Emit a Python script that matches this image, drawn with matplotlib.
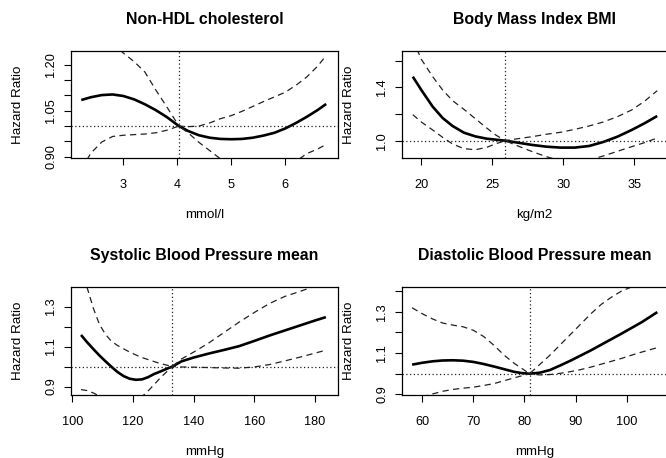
import matplotlib
matplotlib.use("Agg")
import matplotlib.pyplot as plt
import numpy as np

plt.rcParams['font.family'] = ['Liberation Sans', 'DejaVu Sans']

# ---------------- data ----------------
titles = ["Non-HDL cholesterol", "Body Mass Index BMI",
          "Systolic Blood Pressure mean", "Diastolic Blood Pressure mean"]
xlabels = ["mmol/l", "kg/m2", "mmHg", "mmHg"]
ref_x = [4.03, 25.9, 133.0, 81.0]

# Non-HDL cholesterol
x1 = [2.22, 2.4, 2.6, 2.8, 3.0, 3.2, 3.4, 3.6, 3.8, 4.03, 4.2, 4.4, 4.6, 4.8,
      5.0, 5.2, 5.4, 5.6, 5.8, 6.0, 6.2, 6.4, 6.6, 6.76]
hr1 = [1.085, 1.094, 1.101, 1.103, 1.098, 1.087, 1.071, 1.052, 1.030, 1.0,
       0.984, 0.970, 0.962, 0.958, 0.957, 0.958, 0.962, 0.969, 0.978, 0.992,
       1.010, 1.030, 1.052, 1.072]
ci1_a = [1.42, 1.37, 1.32, 1.27, 1.238, 1.21, 1.176, 1.118, 1.064, 1.0,
         0.998, 1.0, 1.01, 1.024, 1.034, 1.048, 1.064, 1.08, 1.095, 1.11,
         1.133, 1.16, 1.195, 1.23]
ci1_b = [0.86, 0.912, 0.948, 0.966, 0.970, 0.972, 0.974, 0.978, 0.986, 1.0,
         0.978, 0.947, 0.92, 0.893, 0.87, 0.852, 0.84, 0.835, 0.84, 0.855,
         0.885, 0.91, 0.925, 0.94]

# BMI
x2 = [19.4, 20, 20.8, 21.5, 22.2, 23.0, 23.8, 24.6, 25.2, 25.9, 26.8, 27.8,
      28.8, 29.8, 30.8, 31.8, 32.8, 33.8, 34.8, 35.7, 36.6]
hr2 = [1.48, 1.38, 1.255, 1.17, 1.11, 1.06, 1.032, 1.015, 1.008, 1.0, 0.985,
       0.968, 0.955, 0.948, 0.948, 0.96, 0.99, 1.03, 1.08, 1.13, 1.185]
ci2_a = [1.76, 1.61, 1.48, 1.38, 1.30, 1.235, 1.165, 1.095, 1.045, 1.0, 1.015,
         1.03, 1.048, 1.063, 1.085, 1.11, 1.14, 1.18, 1.23, 1.295, 1.375]
ci2_b = [1.195, 1.14, 1.08, 1.025, 0.975, 0.94, 0.932, 0.95, 0.975, 1.0, 0.96,
         0.918, 0.88, 0.85, 0.84, 0.855, 0.885, 0.92, 0.955, 0.985, 1.02]

# Systolic BP
x3 = [102.9, 105, 107, 109, 111, 113, 115, 117, 119, 121, 123, 125, 127, 129,
      131, 133, 136, 140, 145, 150, 155, 160, 165, 170, 175, 180, 183.6]
hr3 = [1.158, 1.12, 1.087, 1.055, 1.026, 0.998, 0.972, 0.952, 0.939, 0.934,
       0.936, 0.947, 0.963, 0.975, 0.988, 1.0, 1.026, 1.045, 1.065, 1.083,
       1.102, 1.128, 1.155, 1.18, 1.205, 1.23, 1.247]
ci3_a = [1.50, 1.39, 1.29, 1.21, 1.16, 1.125, 1.105, 1.088, 1.072, 1.058,
         1.045, 1.035, 1.025, 1.015, 1.008, 1.0, 1.038, 1.072, 1.118, 1.17,
         1.222, 1.27, 1.315, 1.35, 1.375, 1.402, 1.42]
ci3_b = [0.885, 0.88, 0.868, 0.852, 0.835, 0.82, 0.81, 0.81, 0.815, 0.83,
         0.85, 0.878, 0.91, 0.943, 0.972, 1.0, 0.998, 0.997, 0.995, 0.993,
         0.992, 0.998, 1.01, 1.028, 1.047, 1.067, 1.082]

# Diastolic BP
x4 = [58, 60, 62, 64, 66, 68, 70, 72, 74, 76, 78, 79.5, 81, 83, 85, 87, 89,
      91, 93, 95, 97, 99, 101, 103, 106]
hr4 = [1.044, 1.053, 1.06, 1.064, 1.065, 1.063, 1.057, 1.047, 1.035, 1.022,
       1.009, 1.003, 1.0, 1.005, 1.018, 1.04, 1.063, 1.088, 1.113, 1.14,
       1.167, 1.194, 1.222, 1.25, 1.298]
ci4_a = [1.319, 1.29, 1.265, 1.245, 1.235, 1.227, 1.21, 1.18, 1.138, 1.09,
         1.05, 1.025, 1.0, 1.045, 1.09, 1.14, 1.19, 1.24, 1.29, 1.335, 1.37,
         1.40, 1.42, 1.44, 1.47]
ci4_b = [0.87, 0.888, 0.902, 0.915, 0.924, 0.93, 0.935, 0.943, 0.952, 0.966,
         0.98, 0.99, 1.0, 0.994, 0.996, 1.002, 1.01, 1.02, 1.032, 1.046, 1.06,
         1.074, 1.09, 1.105, 1.126]

xs = [x1, x2, x3, x4]
hrs = [hr1, hr2, hr3, hr4]
cia = [ci1_a, ci2_a, ci3_a, ci4_a]
cib = [ci1_b, ci2_b, ci3_b, ci4_b]

xticks = [[3, 4, 5, 6], [20, 25, 30, 35], [100, 120, 140, 160, 180],
          [60, 70, 80, 90, 100]]
yticks = [[0.90, 0.95, 1.00, 1.05, 1.10, 1.15, 1.20],
          [1.0, 1.2, 1.4, 1.6],
          [0.9, 1.0, 1.1, 1.2, 1.3],
          [0.9, 1.0, 1.1, 1.2, 1.3, 1.4]]
ytick_labels = [["0.90", "", "", "1.05", "", "", "1.20"],
                ["1.0", "", "1.4", ""],
                ["0.9", "", "1.1", "", "1.3"],
                ["0.9", "", "1.1", "", "1.3", ""]]
xlims = [(2.035, 6.97), (18.66, 37.29), (99.7, 187.5), (56.08, 107.9)]
ylims = [(0.8958, 1.2457), (0.87, 1.675), (0.858, 1.399), (0.897, 1.421)]

# ---------------- layout ----------------
W, H = 666, 458
fig = plt.figure(figsize=(W / 100, H / 100), dpi=100)

boxes = [(71.3, 50.7, 337.5, 158.0), (402.3, 50.7, 667.0, 158.0),
         (71.3, 286.7, 337.7, 395.0), (402.3, 286.7, 667.0, 395.0)]

for i in range(4):
    l, t, r, b = boxes[i]
    ax = fig.add_axes([l / W, 1 - b / H, (r - l) / W, (b - t) / H])
    ax.plot(xs[i], hrs[i], color='black', lw=1.9, solid_capstyle='butt')
    ax.plot(xs[i], cia[i], color='#222222', lw=0.9, dashes=(5, 3.5))
    ax.plot(xs[i], cib[i], color='#222222', lw=0.9, dashes=(5, 3.5))
    ax.axhline(1.0, color='#222222', lw=0.9, dashes=(1, 2))
    ax.axvline(ref_x[i], color='#222222', lw=0.9, dashes=(1, 2))
    ax.set_xlim(*xlims[i])
    ax.set_ylim(*ylims[i])
    ax.set_xticks(xticks[i])
    ax.set_xticklabels([str(v) for v in xticks[i]])
    ax.set_yticks(yticks[i])
    ax.set_yticklabels(ytick_labels[i])
    for lab in ax.get_yticklabels():
        lab.set_rotation(90)
        lab.set_va('center')
    ax.tick_params(direction='out', length=5, width=0.8, labelsize=9.2,
                   colors='black')
    ax.tick_params(axis='x', pad=10)
    ax.tick_params(axis='y', pad=5)
    for s in ax.spines.values():
        s.set_linewidth(0.9)
    cx = (l + r) / 2
    fig.text(cx / W, 1 - (t - 31) / H, titles[i], ha='center', va='center',
             fontsize=11.4, fontweight='bold')
    fig.text(cx / W, 1 - (b + 57) / H, xlabels[i], ha='center', va='center',
             fontsize=9.6)
    fig.text((l - 53) / W, 1 - ((t + b) / 2) / H, "Hazard Ratio",
             ha='center', va='center', rotation=90, fontsize=9.6)

fig.savefig("out.png", dpi=100)
